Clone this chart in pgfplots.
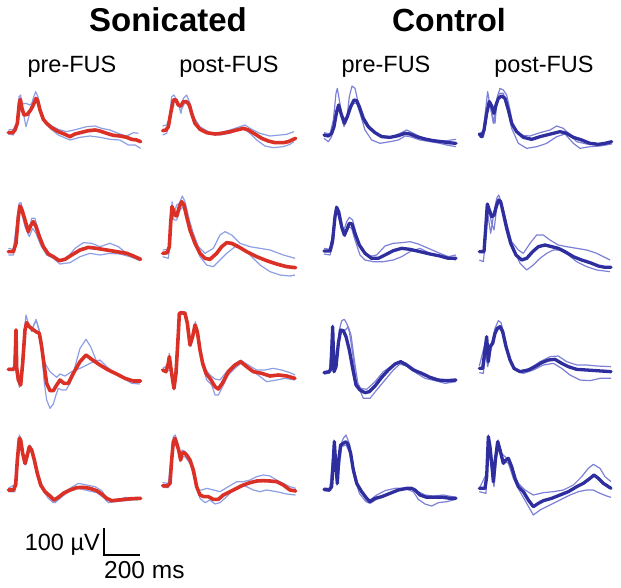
\documentclass[border=0pt]{standalone}
\usepackage{pgfplots}
\pgfplotsset{compat=1.18}
\usepackage{fontspec}
\setmainfont{Liberation Sans}
\definecolor{myred}{RGB}{218,48,38}
\definecolor{mydark}{RGB}{46,46,158}
\definecolor{thinS}{RGB}{140,158,228}
\definecolor{thinC}{RGB}{125,128,214}
\pgfplotsset{
  tS/.style={color=thinS, line width=1.2pt, line join=round},
  tC/.style={color=thinC, line width=1.2pt, line join=round},
  mR/.style={color=myred, line width=3.6pt, line join=round, line cap=round},
  mB/.style={color=mydark, line width=3.3pt, line join=round, line cap=round},
}
\pgfplotstableset{pan/.style 2 args={row sep=\\, x expr=\thisrowno{0}/3+#1, y expr=\thisrowno{1}/3+#2}}
\begin{document}
\begin{tikzpicture}
\begin{axis}[x=1pt, y=1pt, xmin=0, xmax=621, ymin=0, ymax=587, y dir=reverse,
  hide axis, clip=false, scale only axis]
\addplot[draw=none] coordinates {(0,0) (621,587)};
% ---------- Row 1 ----------
% r1c1
\addplot[tS] table[pan={0}{80}] {25 150\\40 148\\50 130\\57 50\\62 45\\68 90\\78 140\\88 105\\98 60\\107 35\\114 50\\122 90\\135 128\\150 145\\175 165\\210 180\\240 172\\270 168\\300 172\\330 178\\360 180\\385 195\\405 195\\422 205\\};
\addplot[tS] table[pan={0}{80}] {25 162\\40 165\\50 140\\60 68\\66 72\\78 70\\90 75\\100 65\\110 60\\120 95\\135 122\\150 135\\175 148\\200 155\\230 148\\260 140\\285 138\\305 145\\330 150\\360 162\\380 168\\400 158\\415 160\\};
\addplot[mR] table[pan={0}{80}] {25 158\\38 158\\45 150\\52 130\\58 70\\61 58\\66 85\\72 105\\82 103\\92 90\\100 75\\108 55\\113 62\\120 90\\130 118\\140 130\\155 143\\175 155\\195 163\\210 170\\225 162\\245 157\\265 152\\285 150\\300 153\\320 160\\340 166\\360 168\\380 172\\395 178\\410 180\\422 185\\};
% r1c2
\addplot[tS] table[pan={150}{80}] {38 138\\50 135\\58 115\\65 50\\72 45\\80 60\\88 82\\93 100\\100 55\\110 45\\120 70\\130 110\\150 140\\180 158\\210 158\\240 150\\270 140\\285 135\\300 145\\330 160\\360 168\\390 165\\410 163\\432 155\\};
\addplot[tS] table[pan={150}{80}] {38 165\\50 160\\60 120\\68 65\\76 65\\88 80\\96 85\\104 70\\112 70\\122 90\\135 130\\155 152\\180 162\\210 165\\240 160\\265 150\\285 148\\300 160\\320 180\\345 198\\370 203\\400 200\\420 193\\432 185\\};
\addplot[mR] table[pan={150}{80}] {38 152\\48 150\\55 140\\62 100\\70 60\\78 60\\85 75\\92 78\\100 65\\110 65\\118 75\\125 100\\135 130\\150 148\\170 158\\195 162\\215 160\\240 155\\260 150\\280 145\\295 150\\315 162\\335 175\\355 183\\375 188\\400 188\\415 185\\430 178\\437 175\\};
% r1c3
\addplot[tC] table[pan={310}{80}] {42 158\\60 162\\70 120\\78 40\\82 25\\88 60\\96 110\\102 140\\110 120\\118 50\\126 18\\135 25\\145 70\\160 125\\180 150\\210 165\\240 172\\270 160\\290 150\\310 160\\340 175\\380 182\\410 182\\438 178\\};
\addplot[tC] table[pan={310}{80}] {42 175\\55 185\\65 170\\75 110\\83 80\\92 90\\100 118\\110 110\\120 90\\130 70\\140 70\\150 100\\165 150\\185 180\\210 190\\240 185\\265 180\\285 168\\300 170\\330 180\\360 185\\390 190\\410 195\\438 200\\};
\addplot[mB] table[pan={310}{80}] {42 165\\55 168\\65 160\\72 140\\80 95\\86 75\\93 100\\103 130\\112 110\\122 80\\132 60\\140 62\\148 80\\160 115\\175 140\\195 158\\215 170\\240 172\\265 167\\285 160\\300 162\\320 170\\345 177\\370 182\\395 185\\415 188\\438 190\\};
% r1c4
\addplot[tC] table[pan={310}{80}] {508 160\\520 155\\530 60\\533 35\\540 75\\548 110\\555 130\\562 50\\570 25\\580 30\\590 45\\598 80\\610 140\\630 165\\660 168\\690 158\\720 150\\740 138\\760 145\\780 165\\800 185\\830 192\\860 195\\905 188\\};
\addplot[tC] table[pan={310}{80}] {508 170\\520 172\\528 130\\535 60\\543 90\\550 130\\558 80\\568 40\\580 40\\592 80\\605 145\\625 190\\650 205\\680 200\\710 190\\740 170\\765 162\\790 190\\810 205\\840 200\\870 198\\905 192\\};
\addplot[mB] table[pan={310}{80}] {508 162\\515 170\\522 150\\530 100\\538 65\\545 78\\552 100\\558 75\\565 55\\575 48\\585 55\\595 90\\605 130\\620 155\\640 172\\665 178\\690 170\\710 165\\730 160\\750 155\\770 160\\790 172\\815 180\\840 190\\865 193\\885 190\\905 185\\};
% ---------- Row 2 ----------
% r2c1
\addplot[tS] table[pan={0}{190}] {25 175\\40 178\\50 100\\57 40\\63 38\\72 75\\85 135\\95 85\\105 85\\115 120\\130 165\\150 195\\175 215\\200 205\\225 175\\250 158\\275 160\\300 170\\330 160\\355 170\\380 190\\405 200\\420 205\\};
\addplot[tS] table[pan={0}{190}] {25 195\\40 195\\50 140\\57 55\\65 70\\75 110\\88 140\\98 115\\108 130\\122 165\\140 195\\160 205\\180 222\\210 218\\240 200\\270 190\\300 195\\330 190\\360 192\\390 200\\420 212\\};
\addplot[mR] table[pan={0}{190}] {25 185\\40 185\\48 160\\55 80\\60 48\\66 60\\75 90\\85 125\\93 105\\100 95\\108 110\\118 140\\130 170\\145 192\\160 200\\178 212\\195 208\\215 195\\240 180\\265 172\\290 175\\320 180\\350 185\\380 190\\400 198\\422 208\\};
% r2c2
\addplot[tS] table[pan={150}{190}] {38 180\\55 178\\62 120\\66 35\\72 70\\80 45\\88 40\\97 18\\105 35\\118 90\\130 130\\145 170\\165 190\\190 175\\210 135\\225 125\\245 135\\270 160\\300 170\\330 175\\360 180\\400 195\\435 205\\};
\addplot[tS] table[pan={150}{190}] {38 200\\55 205\\60 160\\65 60\\72 90\\80 90\\90 60\\100 50\\115 100\\135 160\\150 200\\170 225\\190 230\\210 210\\230 190\\255 170\\275 175\\300 195\\330 225\\360 245\\390 255\\420 258\\435 255\\};
\addplot[mR] table[pan={150}{190}] {38 190\\52 188\\58 170\\62 100\\66 50\\70 60\\75 75\\80 78\\88 50\\95 35\\102 45\\110 80\\120 120\\135 160\\150 190\\165 205\\180 208\\200 190\\215 170\\230 158\\245 160\\265 170\\290 185\\320 200\\350 212\\380 222\\410 230\\437 233\\};
% r2c3
\addplot[tC] table[pan={310}{190}] {42 175\\60 178\\70 120\\78 48\\84 60\\93 100\\100 125\\110 95\\118 82\\128 90\\140 140\\155 180\\175 200\\200 195\\225 168\\250 160\\275 158\\300 155\\325 162\\355 175\\385 188\\415 200\\438 195\\};
\addplot[tC] table[pan={310}{190}] {42 192\\60 195\\70 160\\77 70\\84 75\\95 120\\105 140\\115 110\\125 115\\135 150\\150 195\\165 210\\190 215\\220 215\\250 210\\275 200\\300 185\\330 175\\360 190\\390 200\\415 205\\438 210\\};
\addplot[mB] table[pan={310}{190}] {42 183\\60 183\\68 150\\75 80\\80 52\\86 65\\95 110\\103 135\\110 120\\118 100\\126 102\\135 130\\148 165\\165 190\\185 205\\205 205\\225 195\\250 182\\275 175\\300 178\\330 185\\360 192\\390 198\\415 205\\438 205\\};
% r2c4
\addplot[tC] table[pan={310}{190}] {508 182\\522 180\\530 45\\536 90\\542 130\\550 80\\560 25\\566 15\\575 40\\590 100\\605 155\\625 180\\640 190\\660 160\\680 135\\700 135\\720 150\\745 165\\770 170\\800 175\\830 180\\860 190\\900 210\\};
\addplot[tC] table[pan={310}{190}] {508 210\\520 215\\528 140\\535 50\\545 100\\552 120\\560 55\\570 28\\580 60\\595 130\\612 180\\630 220\\650 240\\670 225\\690 205\\710 190\\730 180\\750 180\\775 195\\800 215\\830 230\\860 240\\900 245\\};
\addplot[mB] table[pan={310}{190}] {508 185\\522 185\\528 100\\532 42\\538 60\\545 80\\552 75\\560 45\\566 30\\572 35\\580 70\\590 115\\602 160\\618 195\\635 210\\650 205\\668 185\\685 170\\705 165\\725 170\\745 175\\765 185\\790 200\\815 210\\840 218\\865 228\\885 232\\903 232\\};
% ---------- Row 3 ----------
% r3c1
\addplot[tS] table[pan={0}{300}] {25 205\\40 205\\47 105\\52 220\\58 262\\65 210\\72 100\\78 45\\85 70\\95 95\\103 70\\110 65\\118 90\\125 150\\132 240\\140 300\\150 325\\160 312\\168 285\\175 265\\185 270\\198 270\\210 250\\225 200\\240 145\\258 118\\272 140\\290 185\\315 205\\340 220\\370 235\\395 250\\420 252\\};
\addplot[tS] table[pan={0}{300}] {25 210\\40 212\\50 180\\60 250\\68 170\\75 75\\82 70\\92 85\\100 80\\108 58\\118 95\\125 150\\135 190\\150 215\\170 232\\180 222\\195 228\\215 215\\240 205\\260 195\\280 185\\300 180\\320 200\\345 220\\370 235\\395 245\\420 248\\};
\addplot[mR] table[pan={0}{300}] {25 208\\40 208\\45 200\\48 90\\50 205\\55 240\\62 255\\68 190\\75 90\\80 68\\88 80\\98 88\\108 95\\118 100\\125 140\\133 200\\140 250\\150 272\\160 272\\170 255\\180 240\\192 250\\205 250\\220 220\\240 185\\258 165\\275 178\\300 195\\325 210\\350 222\\375 235\\400 243\\422 243\\};
% r3c2
\addplot[tS] table[pan={150}{300}] {38 205\\55 195\\58 160\\65 220\\72 270\\82 130\\88 38\\105 35\\115 95\\122 140\\130 95\\136 65\\145 100\\152 160\\165 205\\180 225\\195 237\\210 240\\230 215\\250 195\\272 180\\295 195\\320 210\\345 210\\370 205\\395 210\\420 218\\435 225\\};
\addplot[tS] table[pan={150}{300}] {38 212\\55 212\\62 210\\72 268\\85 90\\92 42\\108 45\\118 110\\125 125\\135 80\\145 110\\155 185\\170 240\\185 255\\195 285\\205 285\\215 265\\235 225\\255 205\\275 188\\295 205\\320 222\\350 245\\380 240\\405 235\\435 240\\};
\addplot[mR] table[pan={150}{300}] {38 210\\48 215\\55 190\\58 170\\62 200\\68 240\\72 265\\78 220\\85 100\\88 40\\95 38\\105 40\\112 70\\120 135\\128 110\\135 75\\142 95\\150 150\\158 190\\168 220\\182 238\\195 260\\205 267\\218 248\\235 215\\255 195\\272 185\\290 200\\310 215\\335 220\\360 228\\385 225\\410 228\\435 235\\};
% r3c3
\addplot[tC] table[pan={310}{300}] {42 215\\58 212\\68 75\\73 200\\80 170\\88 90\\95 62\\103 58\\110 70\\118 95\\128 160\\138 240\\152 265\\170 268\\195 245\\220 215\\245 198\\265 185\\285 188\\310 205\\340 225\\370 238\\400 240\\438 238\\};
\addplot[tC] table[pan={310}{300}] {42 222\\58 220\\66 160\\72 210\\80 200\\88 110\\96 90\\106 90\\115 80\\123 105\\133 180\\145 260\\160 295\\180 295\\200 270\\225 240\\250 210\\270 192\\295 200\\320 220\\345 235\\375 242\\405 250\\438 245\\};
\addplot[mB] table[pan={310}{300}] {42 218\\58 215\\63 205\\68 80\\72 215\\78 200\\85 130\\92 90\\100 92\\108 110\\118 150\\128 205\\138 255\\150 270\\165 278\\178 275\\195 258\\215 232\\235 210\\255 192\\272 185\\290 195\\310 210\\335 220\\360 232\\385 240\\410 242\\438 240\\};
% r3c4
\addplot[tC] table[pan={310}{300}] {508 198\\525 130\\530 120\\536 180\\545 130\\555 85\\565 62\\573 68\\582 100\\595 160\\610 205\\630 215\\660 205\\690 185\\720 170\\745 168\\770 185\\800 195\\830 195\\860 198\\903 200\\};
\addplot[tC] table[pan={310}{300}] {508 218\\520 220\\527 160\\533 200\\542 155\\552 110\\562 90\\572 85\\585 120\\598 175\\615 210\\640 220\\670 210\\700 195\\730 190\\755 205\\780 225\\810 240\\840 242\\870 235\\903 235\\};
\addplot[mB] table[pan={310}{300}] {508 205\\518 205\\525 150\\530 110\\535 185\\540 140\\548 130\\555 100\\562 85\\570 80\\578 95\\588 140\\600 180\\612 205\\630 215\\655 210\\675 200\\695 188\\715 180\\735 178\\755 190\\775 200\\800 208\\830 210\\860 212\\903 215\\};
% ---------- Row 4 ----------
% r4c1
\addplot[tS] table[pan={0}{420}] {25 205\\47 192\\58 45\\63 55\\72 120\\82 95\\90 75\\100 100\\115 165\\130 205\\150 230\\165 248\\185 230\\210 205\\235 190\\260 195\\285 200\\305 212\\325 240\\345 245\\375 232\\395 235\\422 233\\};
\addplot[tS] table[pan={0}{420}] {25 215\\45 215\\55 110\\60 60\\68 110\\78 135\\88 90\\98 100\\110 150\\125 205\\145 235\\160 248\\180 235\\205 215\\235 205\\265 212\\290 218\\310 232\\325 248\\345 245\\375 242\\400 240\\422 238\\};
\addplot[mR] table[pan={0}{420}] {25 210\\40 210\\47 195\\52 120\\58 55\\62 60\\68 100\\75 130\\82 105\\88 80\\95 90\\103 120\\112 160\\122 195\\135 215\\150 228\\162 240\\175 232\\190 220\\210 210\\230 203\\250 202\\270 205\\290 212\\305 222\\320 235\\335 242\\355 240\\375 238\\395 236\\422 235\\};
% r4c2
\addplot[tS] table[pan={150}{420}] {38 188\\55 190\\63 120\\70 50\\76 45\\84 75\\90 125\\96 90\\106 95\\118 115\\130 155\\142 210\\155 210\\170 205\\190 210\\210 215\\235 200\\260 185\\280 185\\300 180\\320 170\\340 165\\360 168\\380 180\\400 190\\420 200\\437 205\\};
\addplot[tS] table[pan={150}{420}] {38 202\\55 203\\64 140\\72 70\\80 80\\88 100\\95 110\\105 110\\120 130\\135 180\\150 235\\165 248\\180 240\\195 252\\210 248\\230 230\\250 210\\270 195\\290 200\\310 210\\330 215\\350 210\\380 215\\410 222\\437 225\\};
\addplot[mR] table[pan={150}{420}] {38 197\\52 198\\60 190\\65 120\\70 65\\75 55\\80 70\\86 90\\92 120\\96 100\\102 98\\110 105\\120 120\\130 150\\140 200\\150 225\\162 230\\175 230\\190 238\\205 238\\220 225\\240 215\\260 205\\280 195\\300 188\\320 183\\340 182\\360 183\\380 185\\400 195\\420 210\\437 213\\};
% r4c3
\addplot[tC] table[pan={310}{420}] {42 205\\60 205\\72 60\\77 120\\83 180\\90 80\\100 55\\108 45\\118 70\\130 140\\145 200\\165 230\\180 240\\200 225\\225 212\\255 205\\285 205\\305 205\\325 215\\345 225\\370 228\\400 225\\438 232\\};
\addplot[tC] table[pan={310}{420}] {42 212\\58 214\\68 140\\74 90\\80 195\\87 150\\95 80\\108 75\\118 95\\130 160\\148 220\\168 245\\180 250\\200 238\\230 225\\260 212\\290 208\\310 215\\325 238\\345 252\\365 258\\385 248\\410 245\\438 238\\};
\addplot[mB] table[pan={310}{420}] {42 208\\58 210\\65 200\\70 120\\73 65\\77 130\\82 190\\86 120\\92 75\\100 70\\108 65\\115 75\\122 100\\130 150\\140 190\\155 215\\170 235\\180 245\\195 235\\215 230\\240 220\\265 210\\290 205\\305 205\\315 210\\330 225\\350 232\\375 232\\400 232\\420 235\\438 235\\};
% r4c4
\addplot[tC] table[pan={310}{420}] {508 205\\530 160\\535 45\\542 90\\550 175\\558 100\\565 60\\575 100\\585 110\\598 120\\610 160\\625 190\\645 210\\670 225\\700 218\\730 215\\760 210\\790 195\\815 170\\835 145\\850 133\\870 145\\885 170\\903 185\\};
\addplot[tC] table[pan={310}{420}] {508 215\\528 220\\535 70\\545 150\\552 200\\560 110\\568 75\\580 120\\595 130\\610 175\\630 215\\650 250\\670 285\\690 270\\720 255\\750 240\\780 225\\805 215\\830 210\\850 210\\870 220\\890 228\\903 232\\};
\addplot[mB] table[pan={310}{420}] {508 205\\525 205\\530 170\\535 50\\540 80\\546 140\\550 185\\556 120\\563 65\\570 90\\575 110\\580 130\\588 120\\595 115\\605 140\\615 175\\625 200\\640 215\\655 240\\670 260\\685 250\\700 242\\725 235\\750 225\\775 215\\800 200\\820 190\\840 175\\852 165\\865 175\\880 190\\903 205\\};
% ---------- scale bar ----------
\addplot[black, line width=1.1pt] coordinates {(104,528) (104,555) (140,555)};
% ---------- text ----------
\node[font=\fontsize{33}{38}\selectfont\bfseries, anchor=base] at (axis cs:168,31) {Sonicated};
\node[font=\fontsize{32}{38}\selectfont\bfseries, anchor=base] at (axis cs:449,31) {Control};
\node[font=\fontsize{23.5}{28}\selectfont, anchor=base] at (axis cs:72,72) {pre-FUS};
\node[font=\fontsize{23.5}{28}\selectfont, anchor=base] at (axis cs:229,72) {post-FUS};
\node[font=\fontsize{23.5}{28}\selectfont, anchor=base] at (axis cs:386,72) {pre-FUS};
\node[font=\fontsize{23.5}{28}\selectfont, anchor=base] at (axis cs:544,72) {post-FUS};
\node[font=\fontsize{23.5}{28}\selectfont, anchor=base east, inner sep=1pt] at (axis cs:101,550) {100 µV};
\node[font=\fontsize{24.5}{28}\selectfont, anchor=base west, inner sep=1pt] at (axis cs:103,578) {200 ms};
\end{axis}
\end{tikzpicture}
\end{document}
